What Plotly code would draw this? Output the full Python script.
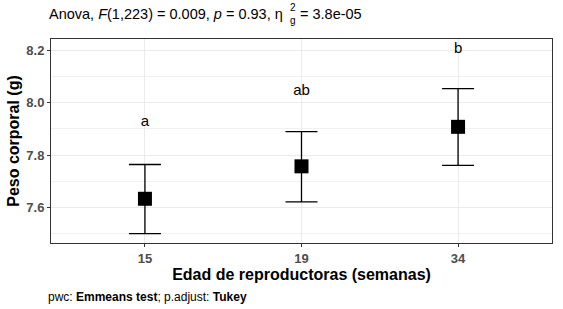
import plotly.graph_objects as go

# ---- data ----
categories = ["15", "19", "34"]
means = [7.633, 7.757, 7.908]
lower = [7.500, 7.621, 7.761]
upper = [7.764, 7.890, 8.054]
letters = ["a", "ab", "b"]
letter_y = [7.925, 8.044, 8.203]
y_ticks = [7.6, 7.8, 8.0, 8.2]
y_minor = [7.5, 7.7, 7.9, 8.1]

W, H = 563, 309
PL, PR, PT, PB = 50.7, 551.7, 39.3, 243.3  # panel edges in page pixels
L, T = PL, PT
R, B = W - PR, H - PB
pw = W - L - R
ph = H - T - B

def px_x(px):
    return (px - L) / pw

def px_y(py):
    return 1 - (py - T) / ph

err_plus = [u - m for u, m in zip(upper, means)]
err_minus = [m - l for m, l in zip(means, lower)]

FONT = "Liberation Sans, Arial, sans-serif"

fig = go.Figure()
fig.add_trace(go.Scatter(
    x=categories, y=means, mode="markers",
    marker=dict(symbol="square", size=14, color="black"),
    error_y=dict(type="data", symmetric=False, array=err_plus, arrayminus=err_minus,
                 color="black", thickness=1.3, width=16),
    showlegend=False, hoverinfo="skip",
))
fig.add_trace(go.Scatter(
    x=categories, y=letter_y, mode="text", text=letters,
    textfont=dict(family=FONT, size=15, color="black"),
    textposition="middle center", showlegend=False, hoverinfo="skip",
))

fig.update_layout(
    width=W, height=H,
    margin=dict(l=L, r=R, t=T, b=B, pad=0, autoexpand=False),
    paper_bgcolor="white", plot_bgcolor="white",
    font=dict(family=FONT, color="black"),
    xaxis=dict(
        type="category", range=[-0.6, 2.6], automargin=False,
        showgrid=True, gridcolor="#ebebeb", gridwidth=1,
        showline=True, linecolor="#333333", linewidth=1, mirror=True,
        ticks="outside", ticklen=3, tickcolor="#333333",
        tickfont=dict(family=FONT, size=13, color="#4d4d4d", weight="bold"),
        title=dict(text="<b>Edad de reproductoras (semanas)</b>",
                   font=dict(family=FONT, size=16, color="black"), standoff=4),
        zeroline=False,
    ),
    yaxis=dict(
        range=[7.464, 8.2436], automargin=False,
        tickvals=y_ticks, ticktext=[f"{v:.1f}" for v in y_ticks],
        showgrid=True, gridcolor="#ebebeb", gridwidth=1,
        minor=dict(tickvals=y_minor, showgrid=True, gridcolor="#f0f0f0", gridwidth=1, ticks=""),
        showline=True, linecolor="#333333", linewidth=1, mirror=True,
        ticks="outside", ticklen=3, tickcolor="#333333",
        tickfont=dict(family=FONT, size=13, color="#4d4d4d", weight="bold"),
        title=dict(text="<b>Peso corporal (g)</b>",
                   font=dict(family=FONT, size=16, color="black"), standoff=2),
        zeroline=False,
    ),
)

ann = []
ann.append(dict(text="Anova, <i>F</i>(1,223) = 0.009, <i>p</i> = 0.93, η",
                x=px_x(47), y=px_y(14), xref="paper", yref="paper",
                xanchor="left", yanchor="middle", showarrow=False,
                font=dict(family=FONT, size=14.5, color="black")))
ann.append(dict(text="2", x=px_x(293), y=px_y(8), xref="paper", yref="paper",
                xanchor="center", yanchor="middle", showarrow=False,
                font=dict(family=FONT, size=10, color="black")))
ann.append(dict(text="g", x=px_x(293), y=px_y(21), xref="paper", yref="paper",
                xanchor="center", yanchor="middle", showarrow=False,
                font=dict(family=FONT, size=10, color="black")))
ann.append(dict(text="= 3.8e-05", x=px_x(298), y=px_y(14), xref="paper", yref="paper",
                xanchor="left", yanchor="middle", showarrow=False,
                font=dict(family=FONT, size=14.5, color="black")))
ann.append(dict(text="pwc: <b>Emmeans test</b>; p.adjust: <b>Tukey</b>",
                x=px_x(46), y=px_y(297), xref="paper", yref="paper",
                xanchor="left", yanchor="middle", showarrow=False,
                font=dict(family=FONT, size=12, color="black")))
fig.update_layout(annotations=ann)

# remove the browser's default 8px body margin so the figure fills the window exactly
fig.write_html("out.html", config={"displayModeBar": False},
               post_script="document.body.style.margin='0px';")
